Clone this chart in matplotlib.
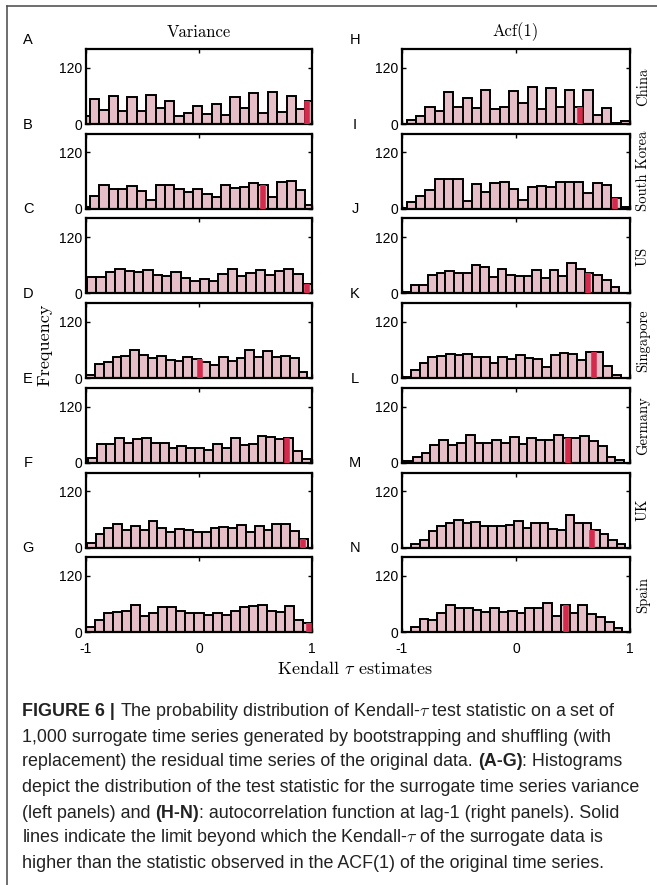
import numpy as np
import matplotlib.pyplot as plt
from matplotlib.lines import Line2D

plt.rcParams['mathtext.fontset'] = 'cm'

countries = ['China', 'South Korea', 'US', 'Singapore', 'Germany', 'UK', 'Spain']
var_letters = ['A', 'B', 'C', 'D', 'E', 'F', 'G']
acf_letters = ['H', 'I', 'J', 'K', 'L', 'M', 'N']

# surrogate Kendall-tau histogram counts, variance indicator
var_counts = [
    [17, 54, 29, 59, 28, 58, 27, 62, 35, 50, 18, 24, 38, 21, 43, 20, 57, 34, 66, 24, 68, 26, 60, 31, 50],
    [4, 28, 50, 43, 43, 48, 37, 18, 50, 50, 42, 35, 41, 31, 26, 50, 45, 47, 54, 50, 26, 57, 60, 39, 8],
    [35, 35, 45, 53, 47, 45, 49, 39, 37, 45, 33, 27, 31, 27, 42, 51, 37, 43, 49, 39, 47, 53, 42, 21],
    [6, 31, 34, 44, 48, 59, 49, 42, 48, 39, 36, 45, 41, 34, 29, 45, 36, 42, 59, 45, 57, 45, 48, 42, 13],
    [11, 40, 40, 53, 43, 50, 53, 43, 43, 32, 36, 32, 32, 27, 40, 32, 52, 37, 40, 58, 56, 50, 53, 26, 9],
    [10, 29, 41, 50, 38, 46, 38, 56, 41, 33, 40, 37, 34, 34, 41, 44, 41, 48, 33, 46, 38, 50, 51, 35, 19],
    [12, 25, 41, 43, 45, 57, 35, 40, 53, 53, 45, 40, 42, 36, 40, 36, 45, 53, 55, 57, 45, 44, 55, 27, 20],
]
# range of the surrogate estimates (histogram limits)
var_range = [(-1.047, 1.023), (-1.047, 1.023), (-0.99, 1.0), (-1.0, 0.96),
             (-0.979, 0.991), (-0.993, 0.962), (-1.0, 1.0)]
# Kendall tau of the original series
var_obs = [0.96, 0.57, 0.96, 0.005, 0.78, 0.92, 0.97]

# same for the lag-1 autocorrelation
acf_counts = [
    [1, 8, 17, 36, 27, 69, 36, 55, 34, 72, 31, 37, 70, 45, 80, 31, 76, 36, 72, 36, 73, 19, 35, 2, 7],
    [1, 14, 27, 40, 63, 63, 63, 17, 52, 36, 55, 57, 43, 19, 46, 49, 46, 58, 58, 57, 33, 55, 50, 23, 4],
    [4, 18, 18, 39, 43, 48, 43, 43, 60, 57, 36, 53, 40, 37, 37, 50, 32, 50, 37, 65, 53, 43, 40, 29, 14],
    [2, 18, 33, 44, 48, 51, 49, 52, 46, 44, 32, 44, 41, 49, 42, 40, 23, 49, 54, 51, 39, 56, 56, 25, 6],
    [3, 12, 20, 38, 49, 37, 43, 59, 43, 43, 49, 42, 54, 40, 53, 49, 49, 60, 53, 52, 58, 47, 36, 13, 5],
    [7, 15, 35, 45, 53, 58, 52, 54, 45, 45, 45, 49, 57, 41, 52, 52, 40, 38, 70, 52, 52, 37, 29, 17, 8],
    [11, 29, 25, 42, 57, 51, 52, 47, 44, 51, 44, 45, 42, 51, 52, 62, 35, 57, 40, 57, 38, 32, 22, 8],
]
acf_range = [(-1.04, 1.0), (-1.04, 1.0), (-1.0, 0.906), (-1.0, 0.92),
             (-0.982, 0.95), (-0.917, 0.96), (-0.923, 0.934)]
acf_obs = [0.56, 0.87, 0.63, 0.68, 0.457, 0.67, 0.44]

caption_lines = [
    [('FIGURE 6 |', True), (' The probability distribution of Kendall-$\\tau$ test statistic on a set of', False)],
    [('1,000 surrogate time series generated by bootstrapping and shuffling (with', False)],
    [('replacement) the residual time series of the original data.', False), (' (A-G)', True), (': Histograms', False)],
    [('depict the distribution of the test statistic for the surrogate time series variance', False)],
    [('(left panels) and', False), (' (H-N)', True), (': autocorrelation function at lag-1 (right panels). Solid', False)],
    [('lines indicate the limit beyond which the Kendall-$\\tau$ of the surrogate data is', False)],
    [('higher than the statistic observed in the ACF(1) of the original time series.', False)],
]

W, H = 657, 885
fig = plt.figure(figsize=(W / 100, H / 100), dpi=100)

pink = '#e6bec7'
red = '#d42a4c'
serif = 'cmr10'
sans = 'Liberation Sans'


def draw_panel(ax, counts, lims, tau_obs, bottom_row):
    counts = np.array(counts)
    edges = np.linspace(lims[0], lims[1], len(counts) + 1)
    centers = 0.5 * (edges[:-1] + edges[1:])
    w = edges[1] - edges[0]
    ax.bar(centers, counts, width=w, color=pink, edgecolor='black', linewidth=1.4, zorder=2)
    k = np.clip(np.searchsorted(edges, tau_obs) - 1, 0, len(counts) - 1)
    ax.vlines(tau_obs, 0, counts[k], color=red, linewidth=4, zorder=3)
    ax.set_xlim(-1, 1)
    ax.set_ylim(0, 160)
    ax.set_xticks([-1, 0, 1])
    ax.set_yticks([0, 120])
    ax.set_yticklabels(['0', '120'], fontfamily=sans)
    if bottom_row:
        ax.set_xticklabels(['-1', '0', '1'], fontfamily=sans)
    else:
        ax.set_xticklabels([])
    ax.tick_params(direction='in', top=True, right=True, length=3, width=1,
                   labelsize=10, pad=3)
    ax.tick_params(axis='x', pad=7)
    for sp in ax.spines.values():
        sp.set_linewidth(1.6)


row_step = 84.7
ax_h = 75
for i in range(7):
    base = 124 + i * row_step
    top = base - ax_h
    bottom_row = i == 6
    ax_l = fig.add_axes([86 / W, (H - base) / H, 226 / W, ax_h / H])
    draw_panel(ax_l, var_counts[i], var_range[i], var_obs[i], bottom_row)
    ax_r = fig.add_axes([402 / W, (H - base) / H, 228 / W, ax_h / H])
    draw_panel(ax_r, acf_counts[i], acf_range[i], acf_obs[i], bottom_row)

    fig.text(28 / W, 1 - (top - 9) / H, var_letters[i], fontsize=10.5,
             fontfamily=sans, ha='center', va='center')
    fig.text(355 / W, 1 - (top - 9) / H, acf_letters[i], fontsize=10.5,
             fontfamily=sans, ha='center', va='center')
    fig.text(643 / W, 1 - (base - ax_h / 2) / H, countries[i], fontsize=10.5,
             fontfamily=serif, rotation=90, ha='center', va='center')

fig.text(199 / W, 1 - 32 / H, 'Variance', fontsize=12, fontfamily=serif,
         ha='center', va='center')
fig.text(516 / W, 1 - 32 / H, 'Acf(1)', fontsize=12, fontfamily=serif,
         ha='center', va='center')
fig.text(45 / W, 1 - 345 / H, 'Frequency', fontsize=13, fontfamily=serif,
         rotation=90, ha='center', va='center')
fig.text(355 / W, 1 - 669 / H, 'Kendall $\\tau$ estimates', fontsize=13,
         fontfamily=serif, ha='center', va='center')

# caption, written piece by piece so bold parts can sit inside a line
renderer = fig.canvas.get_renderer()
cap_size = 12.9


def text_width(s, bold):
    t = fig.text(0, 0, s, fontsize=cap_size, fontfamily=sans,
                 fontweight='bold' if bold else 'normal')
    wpx = t.get_window_extent(renderer).width
    t.remove()
    return wpx


space_w = text_width('x x', False) - text_width('xx', False)
cap_y = [712, 737, 762, 788, 813, 838, 863]
for y, parts in zip(cap_y, caption_lines):
    x = 22.0
    for s, bold in parts:
        if s.startswith(' '):
            x += space_w
            s = s.lstrip()
        t = fig.text(x / W, 1 - y / H, s, fontsize=cap_size, fontfamily=sans,
                     fontweight='bold' if bold else 'normal', va='center',
                     color='#222222')
        x += t.get_window_extent(renderer).width

# frame lines of the figure box
fig.add_artist(Line2D([7 / W, 1], [1 - 6 / H, 1 - 6 / H], color='#555555', lw=1.2))
fig.add_artist(Line2D([7 / W, 7 / W], [0, 1 - 6 / H], color='#555555', lw=1.2))

fig.savefig('out.png', dpi=100)
